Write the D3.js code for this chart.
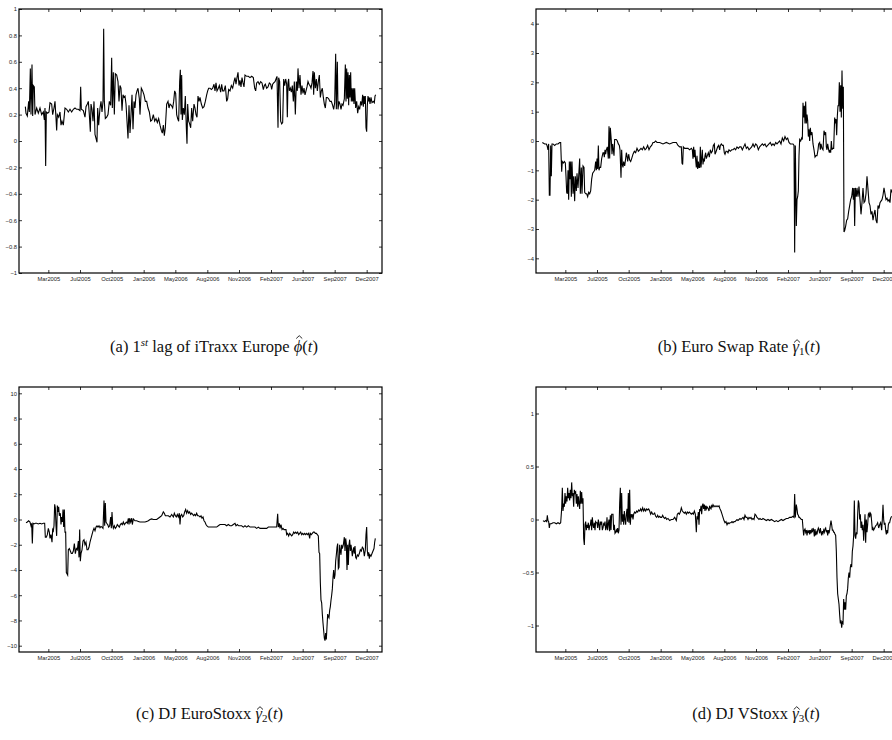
<!DOCTYPE html>
<html>
<head>
<meta charset="utf-8">
<script src="https://cdn.jsdelivr.net/npm/d3@7"></script>
<style>
  body { margin: 0; background: #fff; }
  svg { display: block; }
</style>
</head>
<body>
<svg id="fig" width="892" height="740"></svg>
<script>
// x axis: trading-day index, with the month ticks used in the figure
const tickDays = [69, 164, 259, 355, 450, 546, 641, 737, 832, 928, 1024];
const tickLabels = ["Mar2005", "Jul2005", "Oct2005", "Jan2006", "May2006", "Aug2006",
  "Nov2006", "Feb2007", "Jun2007", "Sep2007", "Dec2007"];

// (a) 1st lag of iTraxx Europe, [day, value]
const phiHat = [[0,.26],[2,.21],[6,.19],[10,.30],[12,.22],[15,.55],[17,.20],[20,.58],[22,.19],[24,.42],[27,.41],[29,.20],[34,.25],[39,.21],[44,.25],[49,.20],[54,.22],[57,.16],[59,.25],[61,-.19],[63,.22],[67,.21],[71,.22],[74,.29],[79,.28],[82,.20],[86,.25],[89,.30],[92,.17],[94,.08],[96,.20],[100,.18],[104,.22],[107,.12],[110,.15],[114,.12],[119,.25],[124,.24],[129,.22],[134,.24],[139,.22],[144,.24],[149,.25],[154,.24],[159,.24],[164,.23],[166,.41],[168,.24],[174,.23],[179,.18],[182,.26],[186,.28],[189,.30],[192,.20],[195,.07],[197,.28],[200,.24],[203,.15],[206,.30],[209,.05],[212,.02],[215,-.01],[217,.25],[220,.12],[224,.25],[227,.30],[230,.22],[233,.30],[235,.85],[237,.30],[240,.17],[244,.18],[248,.20],[252,.30],[256,.27],[259,.63],[261,.25],[264,.52],[267,.20],[270,.51],[274,.50],[278,.45],[281,.30],[284,.42],[287,.40],[290,.23],[293,.35],[296,.33],[299,.34],[302,.28],[305,.15],[308,.02],[311,.27],[314,.06],[317,.20],[320,.35],[323,.09],[326,.30],[329,.25],[332,.35],[335,.38],[338,.40],[342,.32],[344,.20],[348,.40],[352,.38],[356,.35],[360,.30],[364,.30],[368,.25],[372,.22],[376,.15],[380,.16],[384,.20],[388,.15],[392,.17],[396,.14],[400,.17],[404,.12],[408,.08],[411,.06],[414,.12],[417,.04],[420,.10],[424,.28],[428,.30],[431,.25],[434,.28],[438,.27],[442,.25],[445,.30],[448,.38],[451,.36],[454,.20],[457,.17],[460,.15],[463,.45],[465,.54],[467,.20],[469,.50],[471,.16],[474,.25],[477,.20],[480,.34],[483,.10],[485,-.02],[487,.28],[490,.15],[493,.13],[496,.10],[499,.25],[502,.15],[506,.28],[509,.25],[512,.20],[515,.18],[518,.34],[521,.30],[524,.33],[528,.28],[532,.25],[536,.26],[540,.30],[544,.35],[547,.38],[550,.40],[554,.40],[558,.39],[562,.40],[566,.43],[569,.38],[572,.44],[575,.38],[579,.40],[582,.42],[586,.37],[589,.43],[592,.38],[596,.38],[600,.42],[604,.30],[607,.32],[610,.39],[614,.38],[618,.42],[622,.40],[626,.45],[629,.48],[632,.43],[635,.48],[638,.52],[641,.42],[644,.46],[647,.41],[650,.48],[653,.44],[656,.41],[659,.50],[664,.49],[669,.49],[674,.48],[679,.49],[684,.48],[688,.40],[691,.38],[694,.44],[698,.45],[702,.43],[706,.45],[710,.44],[714,.39],[717,.42],[720,.43],[724,.40],[728,.41],[732,.44],[736,.43],[739,.39],[742,.43],[745,.44],[749,.45],[752,.47],[755,.49],[758,.10],[760,.48],[763,.45],[766,.15],[769,.13],[772,.14],[775,.47],[778,.42],[781,.47],[784,.43],[786,.18],[788,.44],[790,.47],[792,.38],[795,.40],[798,.37],[801,.42],[804,.30],[807,.45],[810,.20],[813,.45],[816,.38],[818,.55],[821,.40],[824,.50],[827,.35],[830,.42],[833,.36],[836,.40],[839,.35],[842,.38],[845,.41],[848,.45],[851,.43],[854,.42],[857,.40],[860,.44],[863,.53],[865,.35],[867,.52],[870,.40],[873,.47],[876,.38],[879,.45],[882,.50],[885,.33],[888,.38],[891,.40],[894,.33],[897,.28],[900,.25],[903,.33],[906,.33],[910,.32],[914,.30],[918,.30],[922,.27],[925,.24],[928,.29],[931,.66],[933,.24],[936,.60],[938,.24],[941,.30],[944,.28],[947,.24],[950,.28],[953,.27],[957,.32],[960,.58],[962,.30],[964,.55],[966,.32],[968,.52],[970,.27],[972,.50],[974,.33],[976,.52],[978,.30],[980,.40],[982,.30],[984,.40],[986,.28],[988,.40],[991,.25],[994,.30],[997,.21],[1000,.26],[1003,.24],[1006,.30],[1009,.27],[1012,.35],[1014,.26],[1016,.34],[1018,.28],[1020,.34],[1022,.10],[1024,.07],[1026,.27],[1028,.34],[1030,.30],[1032,.33],[1034,.28],[1037,.33],[1040,.29],[1044,.30],[1047,.29],[1049,.34],[1051,.35]];

// (b) Euro Swap Rate
const gamma1 = [[0,-.05],[7,-.1],[12,-.1],[14,-.15],[17,-.3],[19,-.1],[21,-1.85],[23,-1.85],[25,-.15],[27,-1.2],[29,-.1],[32,-.1],[37,-.15],[42,-.1],[47,-.1],[52,-.05],[55,-.05],[58,-1.05],[60,-.7],[63,-.75],[66,-.7],[69,-.75],[71,-1.2],[73,-1.75],[75,-1.8],[77,-1.0],[79,-2.0],[81,-.7],[83,-1.3],[85,-.7],[87,-1.9],[89,-.7],[92,-1.8],[94,-1.2],[97,-2.05],[99,-1.2],[102,-1.7],[104,-1.1],[107,-1.6],[109,-1.2],[112,-.6],[114,-1.8],[117,-.9],[119,-1.8],[122,-.85],[125,-.9],[127,-1.75],[130,-1.8],[133,-1.8],[136,-1.9],[139,-1.75],[142,-1.8],[145,-1.7],[148,-1.3],[151,-1.1],[154,-1.05],[157,-1.0],[160,-.7],[162,-1.0],[164,-.6],[166,-.95],[168,-.15],[170,-1.0],[172,-.9],[175,-.9],[178,-.6],[180,-.5],[182,-.4],[184,-.4],[186,-.55],[188,-.3],[190,-.45],[192,-.3],[195,-.2],[198,-.6],[200,.5],[202,-.6],[204,.45],[207,0],[209,-.45],[211,-.1],[213,-.3],[215,-.5],[217,.05],[219,.05],[222,.05],[225,0],[228,-.1],[231,-.15],[233,-.3],[236,-1.25],[238,-.3],[240,-.8],[242,-.9],[244,-.7],[247,-.85],[250,-.6],[252,-.4],[254,-.5],[256,-.7],[259,-.45],[262,-.65],[265,-.7],[268,-.6],[272,-.45],[276,-.35],[280,-.4],[284,-.25],[288,-.35],[292,-.3],[296,-.25],[300,-.3],[304,-.2],[308,-.3],[312,-.25],[316,-.15],[320,-.3],[324,-.2],[328,-.15],[332,-.05],[336,-.05],[340,0],[344,-.05],[348,-.05],[352,-.05],[362,-.1],[372,-.05],[382,-.1],[392,-.05],[402,-.05],[407,-.15],[412,-.2],[417,-.2],[419,-.75],[421,-.8],[423,-.2],[427,-.25],[432,-.25],[437,-.25],[442,-.3],[447,-.25],[450,-.3],[452,-.6],[454,-.2],[456,-.55],[458,-.3],[460,-.65],[462,-.9],[464,-.5],[466,-.95],[468,-.7],[470,-.9],[472,-.9],[474,-.2],[476,-.9],[478,-.6],[480,-.3],[482,-.8],[484,-.6],[486,-.7],[488,-.5],[490,-.4],[492,-.6],[495,-.5],[498,-.4],[501,-.55],[504,-.3],[507,-.4],[510,-.35],[513,-.15],[516,-.1],[518,-.45],[520,-.4],[523,-.3],[526,-.2],[529,-.15],[532,-.3],[534,-.15],[537,-.1],[540,-.15],[543,-.15],[546,-.4],[548,-.45],[551,-.35],[554,-.35],[557,-.4],[560,-.3],[564,-.35],[568,-.3],[572,-.3],[576,-.25],[580,-.3],[584,-.2],[588,-.25],[592,-.2],[596,-.2],[600,-.3],[604,-.2],[608,-.1],[612,-.25],[616,-.2],[620,-.3],[624,-.25],[628,-.2],[632,-.1],[636,-.2],[640,-.1],[644,-.15],[648,-.3],[652,-.2],[656,-.15],[660,-.1],[664,-.15],[668,-.1],[672,-.2],[676,-.15],[680,-.1],[684,-.05],[688,-.15],[692,-.1],[696,-.15],[700,-.05],[704,-.1],[708,-.05],[712,0],[716,-.1],[720,.1],[724,0],[728,.15],[732,.05],[736,.1],[740,-.05],[744,-.1],[748,-.1],[752,-.1],[755,-.15],[757,-3.8],[759,-.15],[762,-2.9],[764,-2.0],[766,-1.9],[768,-1.7],[770,-.5],[772,.05],[775,0],[778,.1],[780,.05],[782,1.3],[784,.8],[786,1.2],[788,.6],[790,1.35],[792,.6],[794,.9],[796,.7],[798,.15],[800,.4],[802,0],[804,.45],[806,.2],[809,.3],[812,-.1],[815,-.3],[818,-.55],[821,-.5],[824,-.5],[827,-.3],[829,-.1],[832,-.05],[834,-.3],[836,-.1],[839,-.25],[842,-.3],[845,.35],[848,.2],[850,.3],[852,-.2],[854,-.3],[856,-.1],[859,-.3],[861,-.4],[863,-.3],[865,-.4],[867,0],[869,-.3],[871,-.25],[874,-.25],[877,.8],[879,.6],[881,.75],[883,.2],[885,.85],[887,1.2],[889,1.2],[891,2.0],[893,1.0],[895,1.9],[897,.8],[899,2.4],[901,1.1],[903,1.85],[905,-3.1],[907,-3.05],[910,-2.9],[913,-2.7],[916,-2.65],[919,-2.4],[922,-2.2],[925,-2.0],[928,-1.9],[931,-1.6],[933,-2.0],[935,-1.6],[937,-2.9],[939,-1.6],[942,-1.9],[944,-1.6],[947,-1.9],[950,-1.55],[953,-2.0],[956,-2.5],[959,-2.1],[962,-1.6],[965,-2.1],[968,-2.05],[971,-1.8],[974,-1.2],[977,-1.65],[980,-2.1],[983,-2.2],[986,-2.5],[989,-2.4],[992,-2.7],[995,-2.5],[998,-2.35],[1001,-2.7],[1004,-2.8],[1007,-2.2],[1010,-2.3],[1013,-2.1],[1016,-2.05],[1019,-2.0],[1022,-1.85],[1025,-1.6],[1028,-1.8],[1031,-2.0],[1034,-1.95],[1037,-2.05],[1040,-2.0],[1043,-2.1],[1046,-1.65],[1051,-1.8]];

// (c) DJ EuroStoxx
const gamma2 = [[2,-.25],[6,-.2],[10,-.1],[14,-.2],[17,-.5],[19,-.3],[21,-1.9],[23,-.3],[26,-.35],[30,-.3],[34,-.3],[39,-.35],[44,-.3],[49,-.35],[54,-.3],[58,-.3],[60,-1.4],[63,-1.4],[66,-1.2],[69,-.7],[72,-1.0],[74,-1.5],[77,-1.2],[80,-1.8],[82,-.8],[84,-.9],[86,-.5],[88,1.2],[90,.9],[92,-.5],[94,-1.3],[96,1.1],[98,.6],[100,1.0],[102,.3],[105,.5],[107,-.4],[109,.2],[111,-.2],[113,.8],[115,-.6],[117,.8],[119,-1.0],[121,-1.0],[123,-4.2],[125,-4.3],[127,-4.4],[129,-2.4],[132,-2.3],[135,-2.5],[138,-2.7],[141,-2.7],[144,-2.5],[147,-1.9],[150,-2.7],[153,-2.3],[156,-2.4],[159,-1.7],[161,-3.0],[163,-.8],[165,-3.3],[167,-2.7],[170,-2.4],[173,-1.7],[176,-1.6],[179,-2.0],[182,-1.8],[185,-2.4],[188,-2.4],[191,-2.2],[194,-1.8],[197,-1.5],[200,-1.2],[203,-.9],[206,-.7],[209,-.9],[212,-.6],[215,-.5],[218,-.6],[221,-.5],[224,-.65],[227,-.55],[230,-.6],[233,-.7],[236,1.5],[238,-.5],[240,1.3],[242,-.2],[244,-.3],[247,-.4],[250,-.6],[253,-.5],[256,.2],[258,-.7],[260,.6],[262,-.4],[264,-.7],[267,-.5],[270,-.7],[273,-.6],[276,-.4],[279,-.5],[282,-.6],[285,-.4],[288,-.3],[291,-.4],[294,-.2],[297,-.4],[300,-.3],[303,-.2],[306,-.3],[309,.1],[311,-.4],[313,.1],[316,-.2],[319,.1],[321,-.4],[324,.05],[329,-.1],[334,-.1],[339,-.15],[344,-.2],[349,-.2],[354,-.2],[359,-.2],[364,-.15],[369,-.1],[374,0],[379,.05],[384,0],[389,0],[394,0],[399,.1],[404,.2],[409,.3],[414,.6],[417,.5],[420,.3],[424,.3],[429,.3],[434,.2],[439,.4],[444,.2],[447,.5],[450,.3],[453,.2],[456,.4],[459,.2],[462,.5],[464,-.4],[466,.3],[469,.4],[472,.2],[475,.3],[478,.6],[481,.8],[484,.5],[487,.7],[490,.5],[493,.6],[496,.4],[499,.5],[502,.4],[505,.3],[508,.4],[511,.3],[514,.5],[517,.3],[520,.3],[524,.2],[527,.3],[530,.1],[533,.2],[536,-.1],[539,-.2],[542,-.4],[545,-.5],[549,-.6],[554,-.6],[559,-.6],[564,-.6],[569,-.6],[574,-.6],[579,-.5],[584,-.4],[589,-.4],[594,-.4],[599,-.4],[604,-.5],[609,-.4],[614,-.5],[619,-.5],[624,-.4],[629,-.3],[632,-.5],[636,-.4],[640,-.5],[644,-.5],[649,-.5],[654,-.6],[659,-.5],[664,-.6],[669,-.5],[674,-.6],[679,-.6],[684,-.6],[689,-.6],[694,-.7],[699,-.6],[704,-.7],[709,-.7],[714,-.7],[719,-.7],[724,-.7],[729,-.6],[734,-.6],[739,-.6],[744,-.6],[749,-.6],[754,-.6],[757,.45],[759,-.6],[762,-.3],[764,-.7],[767,-.4],[770,-.8],[773,-.7],[776,-.8],[779,-.8],[782,-.8],[784,-1.2],[787,-1.1],[790,-1.3],[793,-1.1],[796,-1.2],[799,-1.3],[802,-1.2],[805,-1.0],[808,-1.1],[811,-1.0],[814,-1.1],[817,-1.0],[820,-1.2],[823,-1.1],[826,-1.0],[829,-1.2],[832,-1.1],[835,-1.2],[838,-1.1],[841,-1.2],[844,-1.1],[847,-1.2],[850,-1.1],[853,-1.5],[855,-1.1],[858,-1.2],[861,-1.1],[864,-1.0],[867,-1.0],[870,-1.1],[873,-1.1],[876,-1.2],[879,-1.3],[881,-2.6],[883,-2.7],[885,-5.0],[887,-6.4],[889,-6.6],[891,-7.5],[893,-8.2],[895,-8.8],[897,-9.4],[899,-9.6],[901,-9.0],[903,-9.5],[905,-8.5],[907,-7.5],[909,-7.7],[911,-7.8],[913,-7.2],[915,-6.9],[917,-6.4],[919,-6.0],[921,-5.5],[923,-4.6],[925,-4.0],[927,-4.7],[929,-4.4],[931,-3.3],[933,-2.8],[935,-2.2],[937,-1.9],[939,-3.9],[941,-3.8],[943,-2.0],[945,-2.5],[947,-2.8],[949,-2.0],[951,-2.3],[954,-2.0],[957,-1.4],[959,-2.5],[961,-1.5],[963,-1.9],[965,-4.0],[967,-2.0],[969,-3.6],[971,-2.0],[973,-1.6],[975,-2.5],[977,-2.0],[979,-2.4],[981,-2.9],[983,-2.5],[985,-2.2],[987,-2.7],[989,-2.1],[991,-3.0],[993,-3.1],[996,-2.8],[999,-2.9],[1002,-2.7],[1005,-2.4],[1008,-2.5],[1011,-2.2],[1014,-2.3],[1017,-2.9],[1020,-2.4],[1022,-1.2],[1024,-.6],[1026,-2.5],[1028,-2.9],[1030,-2.6],[1032,-3.1],[1034,-2.8],[1037,-2.9],[1040,-2.7],[1043,-2.5],[1046,-2.3],[1048,-1.8],[1050,-1.5]];

// (d) DJ VStoxx
const gamma3 = [[2,-.01],[6,-.02],[10,-.01],[13,-.02],[15,.04],[17,-.01],[19,-.02],[21,-.08],[23,-.04],[27,-.04],[32,-.03],[37,-.03],[42,-.04],[47,-.03],[52,-.04],[55,-.03],[58,.1],[60,.3],[62,.08],[64,.15],[66,.12],[68,.25],[70,.15],[72,.22],[74,.17],[76,.3],[78,.2],[80,.25],[82,.18],[84,.28],[86,.2],[88,.35],[90,.22],[92,.25],[94,.12],[96,.28],[98,.25],[100,.26],[102,.15],[104,.24],[106,.12],[108,.22],[110,.15],[112,.1],[114,.27],[116,.15],[118,.26],[120,.15],[122,.2],[124,-.18],[126,-.24],[128,-.05],[130,-.02],[132,-.1],[134,-.05],[136,-.08],[138,-.03],[140,-.1],[142,-.06],[144,-.05],[146,0],[148,-.1],[150,.02],[152,-.05],[154,-.08],[156,-.03],[158,-.1],[160,-.02],[162,-.03],[164,-.03],[166,-.08],[168,0],[170,-.05],[172,-.1],[174,-.02],[176,-.04],[178,-.02],[180,-.1],[182,-.08],[184,-.04],[186,-.05],[188,-.02],[190,-.1],[192,-.08],[194,.02],[196,-.1],[198,-.04],[200,0],[202,-.11],[204,.04],[206,-.1],[208,.05],[210,.05],[212,.05],[214,-.1],[216,-.05],[218,-.13],[220,-.12],[222,-.1],[224,-.12],[226,-.08],[228,-.13],[230,-.1],[232,.15],[234,.3],[236,-.05],[238,.25],[240,-.02],[242,.05],[244,-.05],[246,.08],[248,0],[250,-.05],[252,.05],[254,.1],[256,-.02],[258,.25],[260,-.03],[262,.28],[264,-.05],[266,.05],[268,.02],[270,.05],[272,0],[274,.05],[277,.07],[280,.06],[283,.08],[286,.07],[289,.09],[292,.08],[295,.1],[298,.08],[301,.11],[304,.08],[307,.1],[310,.08],[313,.1],[316,.09],[319,.1],[322,.08],[325,.05],[328,.07],[331,.05],[334,.05],[337,.06],[340,.03],[343,.02],[346,.04],[349,.02],[352,.03],[355,.02],[358,.02],[361,.04],[364,.02],[367,.01],[370,.02],[373,0],[377,.01],[382,-.01],[387,0],[392,0],[397,.02],[402,-.01],[405,.05],[408,.06],[411,.05],[414,.07],[417,.11],[420,.08],[423,.07],[426,.06],[429,.07],[432,.05],[435,.07],[438,.06],[441,.07],[444,.06],[447,.05],[450,.06],[453,.05],[456,.08],[459,.05],[462,-.12],[464,.03],[466,0],[468,.07],[470,-.05],[472,.1],[474,.08],[476,.13],[478,.05],[480,.13],[482,.15],[484,.1],[486,.14],[488,.08],[490,.13],[492,.1],[494,.12],[496,.11],[498,.1],[500,.08],[502,.13],[504,.11],[506,.1],[508,.13],[510,.12],[512,.14],[515,.12],[518,.13],[521,.12],[524,.13],[527,.12],[530,.13],[533,.1],[536,.08],[539,.05],[542,.02],[545,-.01],[548,-.03],[551,-.02],[554,-.05],[557,-.03],[560,-.04],[563,-.03],[566,-.03],[569,-.02],[572,-.03],[575,-.02],[578,-.02],[581,-.01],[584,0],[587,-.01],[590,0],[593,.01],[596,0],[599,.01],[602,.02],[605,0],[608,.04],[611,.02],[614,.02],[617,0],[620,.02],[623,.01],[626,.02],[629,0],[632,.01],[635,0],[638,.05],[641,.04],[644,.02],[647,.01],[650,0],[653,.01],[656,0],[659,0],[662,.01],[667,0],[672,-.01],[677,0],[682,-.01],[687,0],[692,-.01],[697,-.02],[702,-.01],[707,-.02],[712,-.01],[717,0],[722,-.01],[727,0],[732,.01],[737,.01],[742,.02],[747,.02],[752,.03],[755,.02],[757,.24],[759,.02],[762,.14],[764,.1],[766,.05],[768,.04],[770,.02],[772,.02],[774,.01],[777,0],[780,0],[782,-.08],[784,-.15],[786,-.1],[788,-.09],[790,-.12],[792,-.1],[794,-.15],[796,-.11],[798,-.12],[800,-.1],[802,-.14],[804,-.1],[806,-.13],[808,-.1],[810,-.12],[812,-.08],[814,-.1],[816,-.16],[818,-.09],[820,-.15],[822,-.12],[824,-.14],[826,-.1],[828,-.08],[830,-.1],[832,-.13],[834,-.08],[836,-.12],[838,-.15],[840,-.11],[842,-.13],[844,-.1],[846,-.12],[848,-.09],[850,-.08],[852,-.12],[854,-.1],[856,-.15],[858,-.1],[860,-.13],[862,-.1],[864,-.05],[866,-.01],[868,-.05],[870,-.1],[872,-.1],[874,-.12],[876,-.12],[878,-.14],[880,-.15],[882,-.3],[884,-.55],[886,-.7],[888,-.75],[890,-.8],[892,-.9],[894,-.98],[896,-.95],[898,-1.02],[900,-.97],[902,-.98],[904,-.75],[906,-.85],[908,-.78],[910,-.85],[912,-.72],[914,-.7],[916,-.65],[918,-.55],[920,-.5],[922,-.55],[924,-.45],[926,-.42],[928,-.45],[930,-.3],[932,-.25],[934,-.15],[936,.18],[938,-.15],[940,-.18],[942,-.12],[944,-.14],[946,.05],[948,.18],[950,.15],[952,0],[954,.05],[956,-.08],[958,-.02],[960,-.1],[962,-.05],[964,-.2],[966,-.08],[968,.05],[970,-.22],[972,0],[974,-.12],[976,-.05],[978,.05],[980,.06],[982,.02],[984,.06],[986,.05],[988,-.02],[990,-.1],[992,-.08],[994,-.1],[997,-.08],[1000,-.06],[1003,-.05],[1006,-.03],[1009,-.08],[1012,-.05],[1015,-.03],[1018,-.1],[1020,0],[1022,.14],[1024,0],[1026,-.05],[1028,-.03],[1030,-.1],[1032,-.14],[1034,-.1],[1036,-.13],[1038,-.05],[1040,-.03],[1042,-.03],[1044,0],[1046,.02],[1048,.03]];

const yTicksA = [-1, -0.8, -0.6, -0.4, -0.2, 0, 0.2, 0.4, 0.6, 0.8, 1];
const yTicksB = [-4, -3, -2, -1, 0, 1, 2, 3, 4];
const yTicksC = [-10, -8, -6, -4, -2, 0, 2, 4, 6, 8, 10];
const yTicksD = [-1, -0.5, 0, 0.5, 1];

const svg = d3.select("#fig");
const W = 363;
const x = d3.scaleLinear().domain([-19, 1070]).range([0, W]);
const fmt = (v) => String(Math.round(v * 10) / 10).replace("-", "\u2212");

const panels = [
  { data: phiHat, left: 19, top: 9, h: 264, yDomain: [-1, 1], ticks: yTicksA },
  { data: gamma1, left: 536, top: 9, h: 264, yDomain: [-4.5, 4.5], ticks: yTicksB },
  { data: gamma2, left: 19, top: 387, h: 265, yDomain: [-10.5, 10.5], ticks: yTicksC },
  { data: gamma3, left: 536, top: 387, h: 265, yDomain: [-1.25, 1.25], ticks: yTicksD },
];

panels.forEach((p) => {
  const g = svg.append("g").attr("transform", `translate(${p.left},${p.top})`);
  const y = d3.scaleLinear().domain(p.yDomain).range([p.h, 0]);

  // Axes (inward ticks on all four sides, like matlab)
  const styleAxis = (sel) => {
    sel.select(".domain").remove();
    sel.selectAll("line").attr("stroke", "#000").attr("stroke-width", 0.8);
    sel.selectAll("text")
      .attr("fill", "#222")
      .style("font-family", "'Liberation Sans', Arial, sans-serif")
      .style("font-size", "5.8px");
  };

  g.append("g")
    .attr("transform", `translate(0,${p.h})`)
    .call(d3.axisBottom(x).tickValues(tickDays).tickFormat((d, i) => tickLabels[i])
      .tickSizeInner(-3).tickSizeOuter(0).tickPadding(3.5))
    .call(styleAxis);
  g.append("g")
    .call(d3.axisTop(x).tickValues(tickDays).tickFormat("").tickSizeInner(-3).tickSizeOuter(0))
    .call(styleAxis);
  g.append("g")
    .call(d3.axisLeft(y).tickValues(p.ticks).tickFormat(fmt)
      .tickSizeInner(-3).tickSizeOuter(0).tickPadding(2))
    .call(styleAxis);
  g.append("g")
    .attr("transform", `translate(${W},0)`)
    .call(d3.axisRight(y).tickValues(p.ticks).tickFormat("").tickSizeInner(-3).tickSizeOuter(0))
    .call(styleAxis);

  // series
  const line = d3.line().x((d) => x(d[0])).y((d) => y(d[1]));
  g.append("path")
    .datum(p.data)
    .attr("d", line)
    .attr("fill", "none")
    .attr("stroke", "#000")
    .attr("stroke-width", 1.1)
    .attr("stroke-linejoin", "miter");

  // box
  g.append("rect")
    .attr("width", W)
    .attr("height", p.h)
    .attr("fill", "none")
    .attr("stroke", "#000")
    .attr("stroke-width", 1.2);
});

// Captions
const serif = "'Liberation Serif', 'Times New Roman', serif";
const cap = (cx, cy) => svg.append("text")
  .attr("x", cx).attr("y", cy)
  .attr("text-anchor", "middle")
  .style("font-family", serif)
  .style("font-size", "16.5px")
  .attr("fill", "#111");

// math hat drawn as a small chevron over a symbol
const addHat = (tspan, baseY, rise) => {
  const b = tspan.node().getBBox();
  const cx = b.x + b.width / 2 + 1;
  const yb = baseY - rise;
  svg.append("path")
    .attr("d", `M${cx - 3},${yb} L${cx},${yb - 2.8} L${cx + 3},${yb}`)
    .attr("fill", "none")
    .attr("stroke", "#111")
    .attr("stroke-width", 0.9);
};

const ca = cap(214, 352);
ca.append("tspan").text("(a) 1");
ca.append("tspan").attr("dy", -6).style("font-size", "11px").style("font-style", "italic").text("st");
ca.append("tspan").attr("dy", 6).text(" lag of iTraxx Europe ");
const phiSym = ca.append("tspan").style("font-style", "italic").text("\u03D5");
ca.append("tspan").text("(");
ca.append("tspan").style("font-style", "italic").text("t");
ca.append("tspan").text(")");
addHat(phiSym, 352, 13.5);

const gammaCap = (cx, cy, label, sub) => {
  const t = cap(cx, cy);
  t.append("tspan").text(label + " ");
  const gs = t.append("tspan").style("font-style", "italic").text("\u03B3");
  t.append("tspan").attr("dy", 3).style("font-size", "11px").text(sub);
  t.append("tspan").attr("dy", -3).text("(");
  t.append("tspan").style("font-style", "italic").text("t");
  t.append("tspan").text(")");
  addHat(gs, cy, 9.5);
};
gammaCap(739, 352, "(b) Euro Swap Rate", "1");
gammaCap(209.5, 719, "(c) DJ EuroStoxx", "2");
gammaCap(756, 719, "(d) DJ VStoxx", "3");
</script>
</body>
</html>
